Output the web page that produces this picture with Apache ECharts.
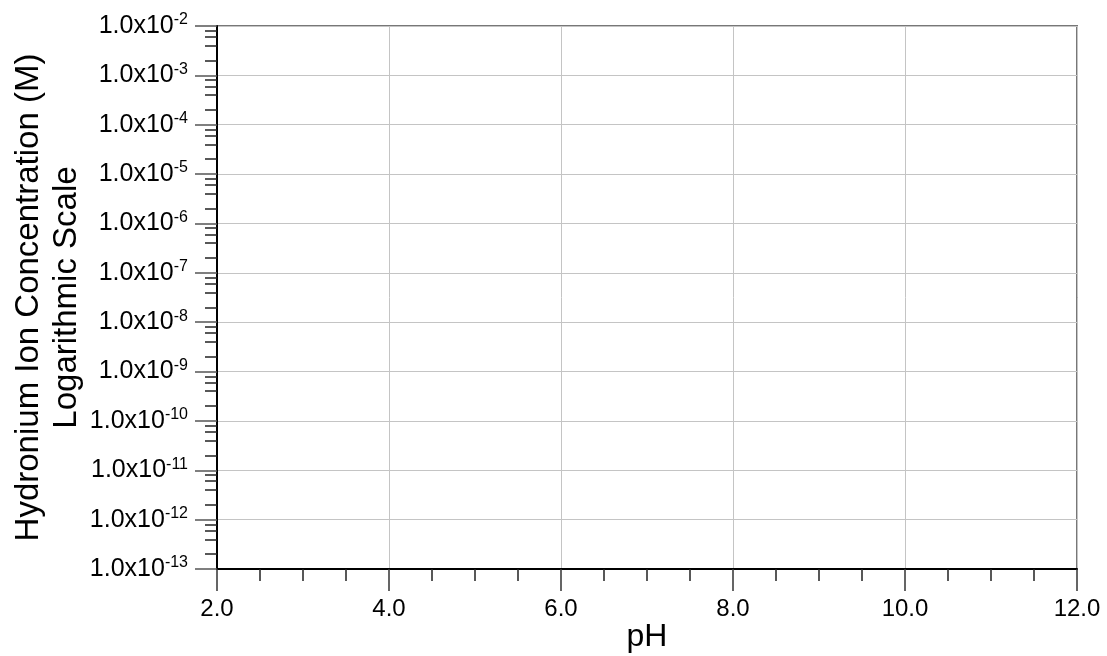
<!DOCTYPE html>
<html>
<head>
<meta charset="utf-8">
<title>Hydronium Ion Concentration vs pH</title>
<script src="https://cdn.jsdelivr.net/npm/echarts@6/dist/echarts.min.js"></script>
<style>
  html, body { margin: 0; padding: 0; background: #fff; }
  #chart { width: 1107px; height: 656px; }
</style>
</head>
<body>
<div id="chart"></div>
<script>
// pH axis range and its labelled ticks
const phMin = 2;
const phMax = 12;
const phStep = 2;
// concentration axis: decades from 1e-13 up to 1e-2 (M)
const decadeExponents = [-13, -12, -11, -10, -9, -8, -7, -6, -5, -4, -3, -2];
// minor ticks inside each decade (k x 10^n)
const minorMultipliers = [2, 4, 6, 8];

const decadeValues = decadeExponents.map(e => Math.pow(10, e));
const yMin = decadeValues[0];
const yMax = decadeValues[decadeValues.length - 1];

const minorValues = [];
decadeExponents.slice(0, -1).forEach(e => {
  minorMultipliers.forEach(k => minorValues.push(k * Math.pow(10, e)));
});

const fontFamily = "'Liberation Sans', Arial, sans-serif";

const chart = echarts.init(document.getElementById("chart"), null, { renderer: "canvas" });

const option = {
  backgroundColor: "#fff",
  animation: false,
  grid: {
    left: 217,
    right: 30,
    top: 26,
    bottom: 87,
    show: true,
    borderColor: "#777",
    borderWidth: 2,
    containLabel: false,
    outerBoundsMode: "none",
  },
  xAxis: {
    type: "value",
    min: phMin,
    max: phMax,
    interval: phStep,
    name: "pH",
    nameLocation: "middle",
    nameGap: 52,
    nameMoveOverlap: false,
    nameTextStyle: { color: "#000", fontSize: 32, fontFamily: fontFamily },
    axisLine: { show: true, onZero: false, lineStyle: { color: "#000", width: 2 } },
    axisTick: { show: true, length: 22, lineStyle: { color: "#333", width: 1.5 } },
    minorTick: { show: true, splitNumber: 4, length: 12, lineStyle: { color: "#222", width: 1.5 } },
    axisLabel: {
      margin: 28,
      color: "#000",
      fontSize: 24,
      fontFamily: fontFamily,
      formatter: v => v.toFixed(1),
    },
    splitLine: { show: true, lineStyle: { color: "#c4c4c4", width: 1 } },
  },
  yAxis: [
    {
      type: "log",
      logBase: 10,
      min: yMin,
      max: yMax,
      position: "left",
      name: "Hydronium Ion Concentration (M)\nLogarithmic Scale",
      nameLocation: "middle",
      nameGap: 131,
      nameRotate: 90,
      nameMoveOverlap: false,
      nameTextStyle: { color: "#000", fontSize: 33, lineHeight: 38, fontFamily: fontFamily, align: "center" },
      axisLine: { show: true, lineStyle: { color: "#000", width: 2 } },
      axisTick: {
        show: true,
        length: 22,
        customValues: decadeValues,
        lineStyle: { color: "#555", width: 1.5 },
      },
      axisLabel: {
        margin: 29,
        color: "#000",
        fontSize: 25,
        fontFamily: fontFamily,
        customValues: decadeValues,
        formatter: v => {
          const e = Math.round(Math.log10(v));
          return "{b|1.0x10}{s|" + e + "}";
        },
        rich: {
          b: { fontSize: 25, lineHeight: 28, color: "#000", fontFamily: fontFamily },
          s: { fontSize: 16, lineHeight: 20, verticalAlign: "top", color: "#000", fontFamily: fontFamily },
        },
      },
      splitLine: { show: true, lineStyle: { color: "#c4c4c4", width: 1 } },
    },
    {
      type: "log",
      logBase: 10,
      min: yMin,
      max: yMax,
      position: "left",
      offset: 0,
      axisLine: { show: false },
      axisLabel: { show: false },
      splitLine: { show: false },
      axisTick: {
        show: true,
        length: 12,
        customValues: minorValues,
        lineStyle: { color: "#222", width: 1.5 },
      },
    },
  ],
  series: [],
};

chart.setOption(option);
</script>
</body>
</html>
